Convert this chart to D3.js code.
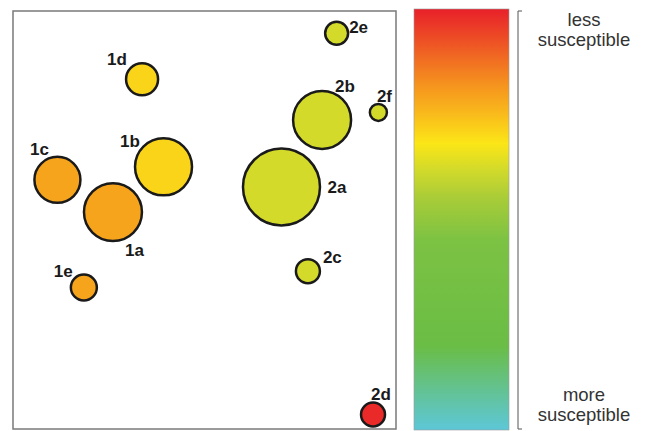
<!DOCTYPE html>
<html><head><meta charset="utf-8">
<script src="https://cdn.jsdelivr.net/npm/d3@7"></script>
<style>body{margin:0;background:#fff}svg{display:block}</style>
</head><body>
<svg id="c" width="646" height="431"></svg>
<script>
// ---- data ----
const labels = ["1a","1b","1c","1d","1e","2a","2b","2c","2d","2e","2f"];
const xVals  = [26.1, 39.3, 11.6, 33.7, 18.5, 70.1, 80.7, 77.0, 94.0, 84.5, 95.4];
const yVals  = [52.0, 62.8, 59.7, 83.7, 34.0, 58.0, 74.0, 37.9, 3.7, 94.7, 75.8];
const sizes  = [56.7, 54.8, 35.7, 17.3, 11.4, 100, 56.7, 9.7, 9.7, 8.9, 4.9];
const suscept = [0.79, 0.71, 0.79, 0.71, 0.79, 0.62, 0.62, 0.62, 0.985, 0.62, 0.62];
const legendTop = ["less", "susceptible"];
const legendBottom = ["more", "susceptible"];
const gradStops = [0, 0.2, 0.45, 0.55, 0.62, 0.68, 0.76, 0.82, 1.0];
const gradColors = ["#5dc7d8","#6abd45","#7cc243","#a8cc38","#d3da2a","#fbe617","#f9b51c","#f5931e","#e8202a"];
// label offsets (layout)
const labelOff = [[12,44],[-43.5,-20],[-27.5,-25],[-35,-14.5],[-30,-10.5],[46,6],[13,-28],[15,-8],[-2,-14.5],[12.5,0],[-1.5,-10.5]];

const svg = d3.select("#c");
const plot = {x0:13, x1:396, y0:11, y1:430};
const x = d3.scaleLinear().domain([0,100]).range([plot.x0, plot.x1]);
const y = d3.scaleLinear().domain([0,100]).range([plot.y1, plot.y0 + 0.0]);
const r = d3.scaleSqrt().domain([0,100]).range([0,38.5]);
const color = d3.scaleLinear().domain(gradStops).range(gradColors).interpolate(d3.interpolateRgb);

// plot frame
svg.append("rect").attr("x",plot.x0).attr("y",plot.y0)
  .attr("width",plot.x1-plot.x0).attr("height",429-plot.y0)
  .attr("fill","none").attr("stroke","#7a7a7a").attr("stroke-width",1.5);

const data = labels.map((l,i)=>({l, x:xVals[i], y:yVals[i], s:sizes[i], v:suscept[i], o:labelOff[i]}));

svg.append("g").selectAll("circle").data(data).join("circle")
  .attr("cx",d=>x(d.x)).attr("cy",d=>y(d.y)).attr("r",d=>r(d.s))
  .attr("fill",d=>color(d.v)).attr("stroke","#1a1a1a").attr("stroke-width",2.5);

svg.append("g").selectAll("text").data(data).join("text")
  .attr("x",d=>x(d.x)+d.o[0]).attr("y",d=>y(d.y)+d.o[1])
  .attr("font-family","Liberation Sans, Arial, sans-serif").attr("font-weight","bold")
  .attr("font-size",17).attr("fill","#1a1a1a").text(d=>d.l);

// colour bar
const cb = {x:414, w:95, y0:9, y1:430};
const cy = d3.scaleLinear().domain([0,1]).range([cb.y1, cb.y0]);
const defs = svg.append("defs");
const lg = defs.append("linearGradient").attr("id","grad")
  .attr("x1",0).attr("y1",1).attr("x2",0).attr("y2",0);
lg.selectAll("stop").data(gradStops).join("stop")
  .attr("offset",d=>d).attr("stop-color",(d,i)=>gradColors[i]);
svg.append("rect").attr("x",cb.x).attr("y",cb.y0).attr("width",cb.w).attr("height",cb.y1-cb.y0)
  .attr("fill","url(#grad)").attr("stroke","#9a9a9a").attr("stroke-width",0.6);

// bracket
const bx = 518;
svg.append("path")
  .attr("d",`M${bx+4},${cy(1)+2} H${bx} V${cy(0)-1} H${bx+4}`)
  .attr("fill","none").attr("stroke","#555").attr("stroke-width",1);

const lx = 584;
svg.append("g").selectAll("text").data(legendTop).join("text")
  .attr("x",lx).attr("y",(d,i)=>26+i*20).attr("text-anchor","middle")
  .attr("font-family","Liberation Sans, Arial, sans-serif").attr("font-size",18.5)
  .attr("fill","#333").text(d=>d);
svg.append("g").selectAll("text").data(legendBottom).join("text")
  .attr("x",lx).attr("y",(d,i)=>401+i*20).attr("text-anchor","middle")
  .attr("font-family","Liberation Sans, Arial, sans-serif").attr("font-size",18.5)
  .attr("fill","#333").text(d=>d);
</script>
</body></html>
